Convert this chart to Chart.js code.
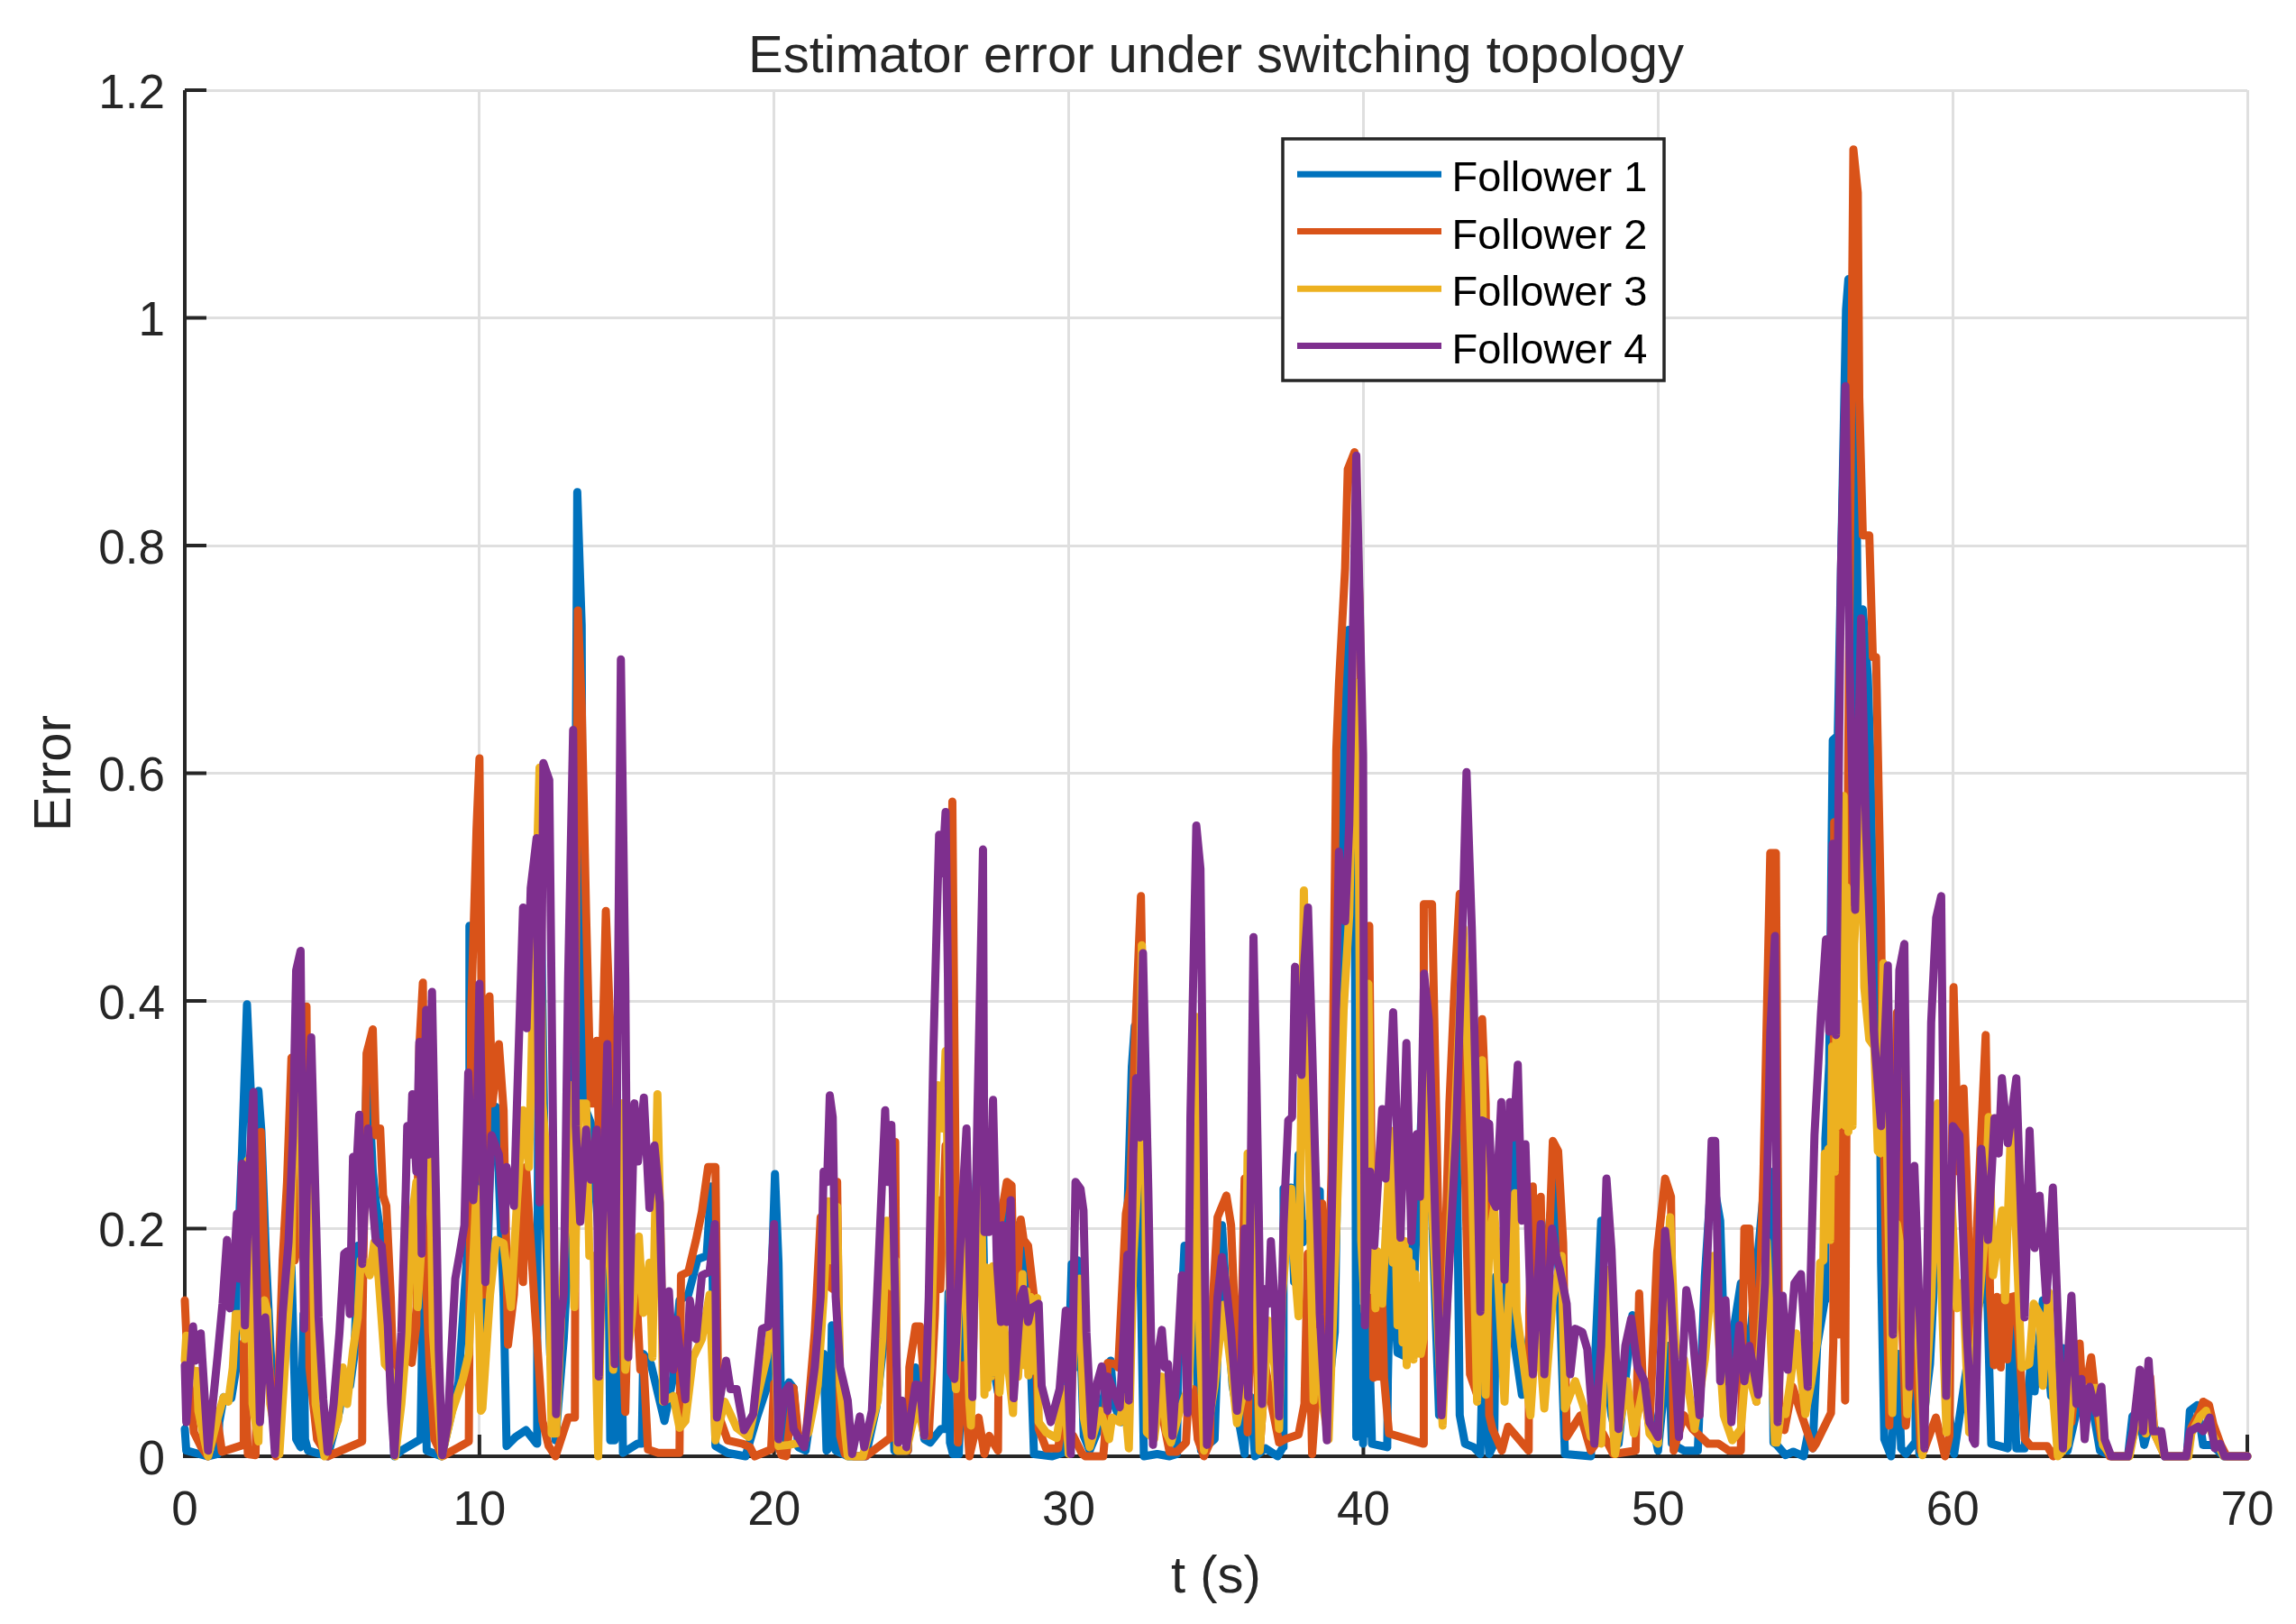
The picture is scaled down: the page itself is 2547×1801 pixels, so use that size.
<!DOCTYPE html>
<html>
<head>
<meta charset="utf-8">
<style>html,body{margin:0;padding:0;background:#fff}canvas{display:block}</style>
<script src="https://cdn.jsdelivr.net/npm/chart.js@4"></script>
</head>
<body>
<canvas id="c" width="2547" height="1801"></canvas>
<script>
const seriesNames = ["Follower 1","Follower 2","Follower 3","Follower 4"];
const xTickStep = 10, yTickStep = 0.2, xMax = 70, yMax = 1.2;

const follower1 = [[0,.024],[.05,.005],[.77,0],[1.12,.002],[1.17,.03],[1.32,.052],[1.58,.051],[1.73,.075],[1.75,.147],[1.94,.266],[2.11,.397],[2.24,.32],[2.33,.11],[2.5,.321],[2.6,.285],[2.76,.172],[2.91,.093],[3.11,.015],[3.32,.078],[3.62,.166],[3.78,.015],[3.93,.008],[4.03,.125],[4.08,.015],[4.18,.005],[4.85,0],[5.25,.04],[5.36,.063],[5.61,.062],[5.76,.09],[5.87,.185],[6.02,.172],[6.19,.354],[6.38,.25],[6.48,.225],[6.68,.188],[6.89,.14],[7.11,0],[7.35,.005],[8.0,.015],[8.06,.11],[8.11,.17],[8.21,.005],[8.72,0],[8.98,.03],[9.29,.065],[9.64,.2],[9.66,.466],[9.79,.39],[9.95,.14],[10.2,.1],[10.41,.3],[10.56,.307],[10.82,.14],[10.92,.009],[11.23,.017],[11.58,.023],[11.94,.011],[11.96,.12],[12.04,.566],[12.25,.2],[12.4,.09],[12.58,.014],[12.86,.103],[13.01,.175],[13.22,.365],[13.32,.847],[13.47,.73],[13.52,.31],[13.78,.293],[14.03,.2],[14.29,.39],[14.39,.142],[14.44,.014],[14.59,.014],[14.75,.31],[14.87,.003],[15.36,.011],[15.51,.011],[15.56,.09],[15.82,.081],[16.28,.031],[16.58,.07],[16.79,.137],[17.09,.142],[17.4,.173],[17.71,.176],[17.86,.237],[18.01,.009],[18.42,.003],[19.03,0],[19.44,.036],[19.8,.064],[20.03,.248],[20.15,.17],[20.26,.011],[20.4,.06],[20.51,.065],[20.66,.06],[20.82,.008],[21.07,.005],[21.53,.09],[21.68,.09],[21.78,.005],[21.89,.008],[21.96,.115],[22.09,.005],[22.5,0],[23.11,0],[23.47,.043],[23.72,.1],[23.93,.147],[24.08,.005],[24.54,.005],[24.59,.065],[24.8,.078],[25.1,.015],[25.3,.012],[25.66,.024],[25.82,.024],[25.92,.144],[25.97,.012],[26.07,.002],[26.27,.002],[26.43,.125],[26.58,.024],[26.99,.339],[27.19,.078],[27.45,.078],[27.6,.056],[27.91,.219],[28.11,.14],[28.26,.203],[28.47,.172],[28.73,.07],[28.82,.002],[29.44,0],[29.9,.004],[30.1,.169],[30.2,.078],[30.3,.172],[30.51,.018],[30.71,.005],[30.95,.02],[31.42,.084],[31.53,.046],[31.78,.03],[32.14,.342],[32.24,.378],[32.4,.216],[32.55,0],[33.0,.002],[33.42,0],[33.67,.002],[33.72,.078],[33.93,.185],[34.08,.172],[34.23,.257],[34.38,.046],[34.49,.005],[34.95,.015],[35.2,.203],[35.35,.14],[35.56,.062],[35.97,.002],[36.02,.052],[36.17,.052],[36.32,0],[36.68,.007],[37.09,0],[37.27,.008],[37.29,.235],[37.55,.236],[37.65,.153],[37.8,.265],[37.95,.188],[38.52,.233],[38.57,.14],[38.77,.046],[39.03,.109],[39.35,.629],[39.5,.726],[39.7,.615],[39.76,.017],[39.82,.127],[39.88,.02],[39.94,.13],[39.99,.011],[40.06,.12],[40.12,.02],[40.17,.127],[40.29,.011],[40.81,.008],[40.83,.066],[40.93,.189],[41.16,.091],[41.4,.088],[41.51,.173],[41.57,.13],[41.63,.19],[41.7,.13],[41.75,.17],[42.04,.341],[42.16,.341],[42.57,.036],[43.04,.311],[43.15,.323],[43.27,.036],[43.45,.011],[43.74,.008],[43.97,.002],[44.03,.066],[44.15,.054],[44.27,.002],[44.44,.011],[44.5,.158],[44.68,.127],[44.79,.115],[45.09,.28],[45.14,.097],[45.38,.054],[45.73,.127],[45.97,.127],[46.49,.244],[46.67,.134],[46.84,.002],[47.72,0],[48.07,.207],[48.19,.09],[48.42,.036],[48.66,.011],[49.13,.124],[49.42,.066],[49.71,.042],[50,.005],[50.35,.097],[50.47,.011],[50.88,.005],[51.35,.005],[51.59,.158],[51.82,.25],[52.11,.207],[52.29,.066],[52.81,.152],[52.99,.066],[53.58,.231],[53.81,.25],[53.92,.012],[54.03,.01],[54.33,.001],[54.59,.004],[54.94,0],[55.1,.021],[55.25,.007],[55.4,.097],[55.66,.137],[55.68,.279],[55.81,.345],[55.93,.629],[56.1,.633],[56.38,1.007],[56.46,1.034],[56.6,.55],[56.69,.961],[56.78,.732],[56.95,.744],[57.12,.686],[57.2,.62],[57.29,.496],[57.52,.4],[57.57,.17],[57.68,.015],[57.91,0],[58.14,.09],[58.25,.007],[58.41,.002],[58.72,.012],[58.74,.071],[58.87,.002],[59.23,.081],[59.43,.185],[59.64,.172],[59.84,.046],[60.05,.002],[60.6,.1],[60.95,.14],[61.14,.175],[61.31,.011],[61.87,.007],[61.99,.137],[62.16,.007],[62.44,.007],[62.67,.091],[62.78,.057],[63.06,.137],[63.34,.053],[63.74,.095],[63.9,.005],[64.3,.05],[64.7,.05],[65,.005],[65.4,0],[65.95,0],[66.1,.035],[66.3,.04],[66.5,.01],[66.7,.03],[67,.02],[67.2,0],[67.95,0],[68.05,.04],[68.3,.045],[68.5,.01],[68.8,.01],[69.2,0],[70,0]];

const follower2 = [[0,.137],[.1,.078],[.31,.021],[.56,.008],[.79,0],[1.12,.03],[1.26,.004],[1.99,.01],[2.0,.1],[2.14,.002],[2.4,.001],[2.52,.14],[2.58,.285],[2.7,.172],[2.86,.084],[3.09,0],[3.32,.172],[3.47,.241],[3.62,.35],[3.73,.172],[3.93,.203],[4.13,.395],[4.23,.078],[4.49,.015],[4.85,0],[6.02,.013],[6.03,.12],[6.17,.354],[6.38,.375],[6.48,.282],[6.63,.288],[6.73,.229],[6.84,.22],[6.99,.14],[7.11,.045],[7.17,.078],[7.45,.093],[7.55,.14],[7.7,.082],[7.86,.115],[7.96,.36],[8.08,.416],[8.16,.172],[8.31,.078],[8.47,.015],[8.74,0],[9.64,.013],[9.72,.39],[9.9,.55],[10.0,.613],[10.1,.31],[10.15,.142],[10.34,.404],[10.44,.31],[10.66,.362],[10.82,.304],[10.97,.098],[11.17,.142],[11.38,.254],[11.48,.153],[11.58,.254],[11.89,.126],[12.14,.031],[12.35,.009],[12.58,0],[13.01,.034],[13.24,.034],[13.27,.42],[13.34,.743],[13.47,.66],[13.62,.477],[13.78,.31],[13.88,.31],[13.98,.365],[14.08,.254],[14.29,.479],[14.44,.376],[14.59,.31],[14.95,.039],[15.05,.142],[15.31,.153],[15.46,.076],[15.56,.087],[15.72,.006],[16.07,.003],[16.79,.003],[16.84,.159],[17.09,.162],[17.35,.19],[17.55,.215],[17.76,.254],[18.01,.254],[18.11,.037],[18.42,.014],[18.93,.011],[19.18,.008],[19.34,0],[19.9,.006],[20.0,.064],[20.15,.009],[20.25,.001],[20.41,0],[20.66,.06],[20.82,.018],[21.07,.015],[21.38,.109],[21.58,.21],[21.84,.15],[21.99,.147],[22.14,.241],[22.2,.109],[22.24,.018],[22.4,.002],[22.7,0],[23.11,0],[23.93,.016],[23.95,.14],[24.11,.276],[24.18,.005],[24.54,.005],[24.59,.078],[24.8,.114],[24.95,.114],[25.1,.062],[25.25,.018],[25.46,.125],[25.56,.225],[25.64,.147],[25.82,.273],[25.97,.172],[26.05,.575],[26.24,.012],[26.43,.08],[26.63,0],[26.94,.034],[27.14,.002],[27.3,.018],[27.6,.005],[27.65,.203],[27.9,.241],[28.06,.238],[28.16,.109],[28.37,.208],[28.47,.19],[28.62,.185],[28.82,.14],[28.98,.024],[29.23,.007],[29.64,.007],[29.74,.024],[29.9,.02],[30.15,.018],[30.46,.002],[30.56,0],[31.17,0],[31.22,.015],[31.32,.082],[31.58,.081],[31.68,.078],[31.94,.213],[32.09,.235],[32.24,.36],[32.45,.492],[32.6,.266],[32.68,.021],[33.1,.046],[33.42,.004],[33.67,.004],[33.98,.012],[34.03,.037],[34.23,.059],[34.38,.015],[34.59,0],[34.79,.012],[34.9,.14],[35.05,.21],[35.35,.229],[35.51,.203],[35.66,.109],[35.81,.05],[35.97,.244],[36.07,.021],[36.22,.172],[36.32,.14],[36.48,.005],[36.68,.078],[36.88,.046],[37.14,.012],[37.34,.015],[37.8,.019],[38.0,.046],[38.11,.178],[38.26,.002],[38.47,.078],[38.6,.222],[38.77,.109],[38.92,.25],[39.08,.62],[39.17,.678],[39.38,.78],[39.47,.867],[39.7,.882],[39.88,.74],[40.05,.189],[40.2,.466],[40.34,.069],[40.4,.14],[40.46,.07],[40.52,.14],[40.58,.07],[40.64,.14],[40.7,.069],[40.87,.02],[42.04,.011],[42.05,.485],[42.33,.485],[42.51,.25],[42.65,.066],[42.92,.31],[43.1,.415],[43.27,.494],[43.45,.25],[43.62,.072],[43.86,.054],[44.03,.384],[44.15,.31],[44.27,.036],[44.38,.024],[44.7,.005],[44.91,.026],[45.61,.005],[45.63,.127],[45.75,.237],[45.9,.085],[46.02,.228],[46.14,.072],[46.43,.277],[46.61,.268],[46.78,.188],[46.9,.017],[47.37,.036],[47.72,.005],[48.13,.02],[48.48,.002],[49.24,.005],[49.36,.143],[49.48,.066],[49.71,.024],[49.97,.179],[50.24,.244],[50.44,.228],[50.53,.005],[50.88,.036],[51.17,.024],[51.7,.011],[52.05,.011],[52.4,.005],[52.81,.005],[52.93,.2],[53.1,.2],[53.34,.048],[53.58,.25],[53.81,.53],[54.0,.53],[54.12,.03],[54.29,.023],[54.57,.061],[54.85,.038],[55.25,.007],[55.36,.011],[55.87,.038],[55.95,.1],[55.98,.557],[56.13,.107],[56.17,.386],[56.35,.049],[56.45,.6],[56.63,1.148],[56.78,1.11],[56.83,.93],[56.95,.809],[57.17,.809],[57.29,.702],[57.4,.702],[57.57,.473],[57.63,.32],[57.85,.027],[58.11,.39],[58.26,.14],[58.41,.027],[58.72,.109],[58.92,.005],[59.02,.005],[59.43,.034],[59.74,0],[59.89,.018],[60.03,.412],[60.2,.25],[60.37,.323],[60.51,.22],[60.66,.047],[60.82,.2],[61.12,.37],[61.27,.141],[61.4,.08],[61.5,.14],[61.63,.078],[61.72,.14],[61.85,.085],[61.99,.14],[62.14,.141],[62.3,.078],[62.45,.015],[62.65,.009],[63.21,.009],[63.41,0],[63.6,.01],[63.8,.06],[64.03,.03],[64.31,.099],[64.42,.046],[64.7,.087],[64.87,.046],[65.05,.015],[65.33,0],[65.95,0],[66.15,.02],[66.4,.06],[66.55,.02],[66.7,.07],[66.85,.02],[67.15,.003],[67.2,0],[67.95,0],[68.1,.025],[68.4,.04],[68.5,.048],[68.7,.045],[68.85,.028],[69.1,.01],[69.3,0],[70,0]];

const follower3 = [[0,.084],[.05,.106],[.26,.071],[.41,.075],[.46,.04],[.66,.015],[.79,0],[1.12,.034],[1.32,.052],[1.48,.048],[1.63,.078],[1.73,.125],[1.89,.125],[2.04,.103],[2.14,.26],[2.24,.207],[2.3,.046],[2.5,.013],[2.58,.109],[2.7,.137],[2.8,.128],[2.9,.046],[3.21,.002],[3.37,.068],[3.62,.172],[3.67,.267],[3.88,.32],[4.03,.172],[4.23,.269],[4.34,.203],[4.44,.046],[4.74,0],[5.2,.032],[5.36,.078],[5.51,.046],[5.71,.093],[5.87,.122],[5.97,.172],[6.07,.172],[6.28,.159],[6.43,.188],[6.58,.156],[6.79,.081],[6.99,.075],[7.14,0],[7.35,.046],[7.55,.109],[7.7,.207],[7.86,.241],[7.9,.131],[8.0,.172],[8.3,.317],[8.42,.109],[8.72,0],[9.08,.04],[9.44,.068],[9.64,.09],[9.79,.172],[9.9,.235],[10.05,.04],[10.1,.042],[10.36,.142],[10.56,.19],[10.82,.187],[11.07,.131],[11.28,.226],[11.48,.304],[11.68,.254],[11.79,.374],[12.04,.605],[12.14,.31],[12.3,.254],[12.45,.02],[12.6,.02],[12.81,.142],[13.01,.254],[13.11,.326],[13.22,.131],[13.37,.31],[13.62,.31],[13.73,.176],[13.88,.176],[14.03,0],[14.13,.142],[14.34,.27],[14.54,.076],[14.85,.31],[14.95,.076],[15.15,.115],[15.41,.193],[15.56,.126],[15.77,.17],[15.87,.087],[16.04,.318],[16.17,.17],[16.23,.048],[16.58,.053],[16.79,.025],[16.99,.031],[17.25,.087],[17.55,.103],[17.81,.142],[18.01,.014],[18.32,.048],[18.73,.025],[19.13,.017],[19.44,.053],[19.75,.087],[20.0,.137],[20.15,.009],[20.51,.01],[20.87,.012],[21.17,.021],[21.48,.062],[21.68,.14],[21.84,.224],[21.94,.172],[22.14,.219],[22.24,.062],[22.5,0],[23.01,0],[23.52,.049],[23.67,.103],[23.82,.207],[23.98,.149],[24.13,.172],[24.18,.005],[24.49,.005],[24.85,.046],[25.1,.018],[25.3,.078],[25.56,.326],[25.71,.288],[25.82,.356],[25.97,.14],[26.17,.059],[26.27,.14],[26.43,.213],[26.63,.046],[26.68,.027],[26.99,.298],[27.14,.054],[27.19,.166],[27.24,.06],[27.3,.16],[27.36,.07],[27.42,.167],[27.5,.085],[27.56,.15],[27.65,.056],[27.8,.115],[28.11,.038],[28.2,.12],[28.28,.07],[28.37,.109],[28.43,.16],[28.5,.08],[28.57,.145],[28.63,.071],[28.7,.14],[28.76,.075],[28.83,.135],[28.93,.139],[28.98,.03],[29.23,.021],[29.59,.016],[29.85,.059],[30.0,.002],[30.25,.14],[30.36,.156],[30.51,.034],[30.71,.008],[31.07,.04],[31.37,.015],[31.47,.034],[31.73,.03],[31.89,.052],[32.04,.007],[32.19,.172],[32.4,.273],[32.48,.449],[32.6,.266],[32.65,.021],[32.9,.015],[33.16,.07],[33.31,.021],[33.47,.012],[33.77,.04],[34.08,.062],[34.23,.172],[34.33,.386],[34.44,.109],[34.59,.005],[34.95,.062],[35.25,.133],[35.51,.078],[35.71,.029],[35.97,.062],[36.07,.266],[36.22,.235],[36.27,.317],[36.48,.005],[36.68,.078],[36.78,.119],[36.99,.078],[37.14,.024],[37.24,.14],[37.55,.235],[37.65,.172],[37.8,.123],[37.98,.497],[38.31,.049],[38.42,.109],[38.62,.046],[38.82,.015],[39.13,.235],[39.33,.392],[39.52,.476],[39.7,.68],[39.82,.647],[39.93,.189],[40.05,.127],[40.17,.415],[40.29,.146],[40.35,.18],[40.41,.13],[40.47,.18],[40.52,.135],[40.58,.178],[40.64,.134],[40.93,.286],[41.0,.17],[41.05,.25],[41.16,.115],[41.25,.21],[41.33,.1],[41.4,.189],[41.47,.08],[41.53,.18],[41.57,.091],[41.63,.17],[41.7,.085],[41.76,.16],[41.81,.09],[41.88,.15],[41.95,.09],[42.04,.103],[42.1,.372],[42.22,.28],[42.69,.027],[42.92,.189],[43.39,.464],[43.68,.25],[43.86,.048],[44.03,.348],[44.15,.054],[44.27,.189],[44.44,.219],[44.79,.048],[44.91,.127],[45.14,.231],[45.2,.127],[45.67,.036],[45.9,.127],[46.14,.042],[46.43,.14],[46.73,.176],[46.84,.042],[47.19,.066],[47.49,.042],[47.72,.017],[48.07,.011],[48.25,.164],[48.48,.024],[48.54,.002],[48.95,.066],[49.18,.02],[49.54,.066],[49.71,.02],[50.0,.011],[50.41,.21],[50.59,.097],[50.88,.085],[51.24,.024],[51.59,.085],[51.88,.176],[52.0,.127],[52.23,.036],[52.52,.014],[52.81,.024],[52.99,.08],[53.34,.048],[53.69,.189],[53.97,.012],[54.03,.012],[54.18,.04],[54.33,.037],[54.49,.065],[54.69,.108],[55.0,.037],[55.2,.065],[55.4,.101],[55.5,.17],[55.61,.172],[55.66,.266],[55.72,.19],[55.78,.27],[55.84,.19],[55.91,.36],[56.0,.25],[56.05,.37],[56.1,.29],[56.2,.5],[56.3,.58],[56.36,.29],[56.4,.5],[56.46,.285],[56.53,.48],[56.6,.29],[56.66,.45],[56.75,.5],[56.89,.61],[57.0,.412],[57.17,.366],[57.34,.36],[57.46,.268],[57.55,.266],[57.65,.433],[57.75,.3],[57.95,.038],[58.11,.204],[58.31,.172],[58.46,.037],[58.62,.141],[58.77,.156],[58.97,.001],[59.28,.141],[59.49,.31],[59.59,.172],[59.79,.021],[59.94,.235],[60.15,.13],[60.35,.153],[60.56,.021],[60.81,.109],[61.07,.188],[61.22,.298],[61.37,.159],[61.68,.216],[61.78,.137],[61.99,.298],[62.19,.172],[62.34,.078],[62.6,.081],[62.75,.134],[62.95,.125],[63.06,.062],[63.26,.144],[63.41,.053],[63.57,0],[63.9,.01],[64.1,.07],[64.4,.06],[64.7,.06],[64.9,.06],[65.1,.01],[65.4,0],[66,0],[66.15,.02],[66.4,.055],[66.55,.02],[66.7,.06],[66.85,.02],[67.2,0],[68,0],[68.1,.02],[68.4,.035],[68.6,.04],[68.8,.02],[69.2,0],[70,0]];

const follower4 = [[0,.08],[.05,.03],[.28,.114],[.36,.084],[.54,.108],[.79,.005],[1.12,.09],[1.28,.134],[1.43,.19],[1.53,.13],[1.68,.172],[1.77,.213],[1.84,.156],[1.94,.257],[2.04,.115],[2.19,.25],[2.33,.32],[2.4,.2],[2.55,.03],[2.73,.122],[2.9,.062],[3.06,.002],[3.32,.125],[3.52,.188],[3.67,.282],[3.78,.427],[3.93,.444],[4.05,.112],[4.19,.3],[4.29,.368],[4.39,.272],[4.54,.122],[4.7,.05],[4.85,.004],[5.05,.046],[5.25,.109],[5.41,.178],[5.51,.18],[5.6,.125],[5.71,.263],[5.82,.25],[5.92,.3],[6.02,.169],[6.22,.288],[6.38,.219],[6.48,.19],[6.68,.185],[6.89,.115],[7.0,.046],[7.11,.001],[7.35,.109],[7.5,.235],[7.55,.29],[7.65,.265],[7.72,.318],[7.86,.25],[7.96,.364],[8.04,.178],[8.19,.392],[8.26,.265],[8.39,.408],[8.52,.235],[8.62,.093],[8.74,.001],[8.93,.03],[9.03,.084],[9.18,.156],[9.33,.178],[9.49,.203],[9.62,.337],[9.79,.225],[9.9,.266],[10.0,.415],[10.2,.153],[10.41,.282],[10.66,.265],[10.85,.198],[10.92,.254],[11.17,.22],[11.22,.265],[11.48,.482],[11.6,.376],[11.74,.499],[11.94,.543],[12.04,.223],[12.17,.609],[12.37,.594],[12.6,.037],[12.76,.12],[12.86,.142],[13.01,.42],[13.18,.638],[13.27,.29],[13.42,.206],[13.62,.287],[13.78,.243],[13.98,.287],[14.05,.07],[14.34,.362],[14.59,.081],[14.8,.7],[14.95,.42],[15.05,.087],[15.26,.31],[15.38,.259],[15.58,.315],[15.77,.218],[15.94,.273],[16.12,.223],[16.28,.048],[16.43,.145],[16.58,.076],[16.68,.12],[16.99,.05],[17.14,.137],[17.35,.103],[17.55,.159],[17.81,.162],[17.99,.204],[18.06,.034],[18.37,.084],[18.52,.059],[18.73,.059],[18.98,.023],[19.29,.037],[19.59,.112],[19.8,.114],[20.0,.204],[20.15,.015],[20.36,.056],[20.51,.062],[20.66,.024],[21.02,.008],[21.38,.078],[21.58,.14],[21.68,.25],[21.8,.241],[21.89,.317],[21.99,.298],[22.09,.14],[22.24,.078],[22.5,.049],[22.65,.002],[22.91,.035],[23.06,.008],[23.32,.04],[23.52,.156],[23.77,.304],[23.85,.241],[23.98,.291],[24.08,.172],[24.21,.012],[24.34,.049],[24.49,.008],[24.8,.063],[24.95,.062],[25.1,.018],[25.25,.14],[25.41,.36],[25.6,.546],[25.7,.512],[25.82,.566],[25.9,.42],[26.0,.074],[26.12,.068],[26.38,.219],[26.53,.288],[26.73,.052],[26.9,.3],[27.09,.533],[27.14,.197],[27.3,.197],[27.43,.313],[27.56,.172],[27.7,.118],[27.75,.203],[27.89,.118],[28.03,.225],[28.13,.051],[28.37,.14],[28.47,.147],[28.62,.118],[28.73,.13],[28.98,.134],[29.08,.062],[29.39,.03],[29.69,.059],[29.9,.128],[30.07,.002],[30.23,.241],[30.4,.235],[30.5,.216],[30.6,.109],[30.78,.018],[30.97,.065],[31.12,.079],[31.32,.04],[31.33,.07],[31.73,.043],[31.84,.093],[31.99,.177],[32.04,.049],[32.19,.266],[32.29,.332],[32.41,.28],[32.52,.442],[32.7,.235],[32.86,.01],[33.0,.084],[33.16,.111],[33.26,.078],[33.37,.081],[33.52,.018],[33.67,.078],[33.84,.159],[33.95,.112],[34.03,.038],[34.13,.298],[34.33,.554],[34.47,.516],[34.69,.01],[34.9,.062],[35.05,.14],[35.2,.175],[35.35,.148],[35.51,.109],[35.71,.04],[35.86,.078],[35.97,.2],[36.09,.052],[36.27,.456],[36.37,.33],[36.56,.046],[36.68,.147],[36.78,.134],[36.86,.189],[36.99,.134],[37.14,.035],[37.29,.203],[37.45,.295],[37.58,.298],[37.68,.43],[37.76,.351],[37.9,.335],[37.99,.431],[38.12,.482],[38.26,.36],[38.36,.266],[38.52,.125],[38.76,.014],[38.97,.266],[39.17,.531],[39.38,.47],[39.52,.555],[39.76,.879],[39.99,.616],[40.05,.115],[40.23,.25],[40.37,.185],[40.64,.305],[40.75,.244],[41.01,.39],[41.26,.192],[41.46,.363],[41.63,.189],[41.81,.283],[41.92,.228],[42.06,.424],[42.22,.384],[42.39,.25],[42.65,.036],[42.92,.17],[43.15,.286],[43.33,.433],[43.5,.601],[43.68,.464],[43.8,.341],[43.97,.127],[44.03,.295],[44.27,.292],[44.38,.225],[44.5,.219],[44.68,.311],[44.79,.155],[44.97,.311],[45.09,.28],[45.24,.344],[45.38,.207],[45.5,.274],[45.75,.072],[46.02,.204],[46.14,.072],[46.4,.2],[46.55,.176],[46.67,.164],[46.9,.134],[47.02,.072],[47.19,.112],[47.43,.109],[47.6,.094],[47.84,.011],[48.07,.097],[48.25,.244],[48.42,.182],[48.66,.024],[48.89,.097],[49.09,.121],[49.3,.079],[49.54,.066],[49.71,.03],[50.0,.017],[50.24,.198],[50.41,.152],[50.71,.017],[50.96,.146],[51.11,.127],[51.41,.036],[51.65,.158],[51.82,.277],[51.94,.277],[52.11,.066],[52.29,.137],[52.49,.03],[52.76,.115],[52.93,.066],[53.1,.097],[53.4,.054],[53.63,.152],[53.81,.372],[53.97,.457],[54.06,.03],[54.23,.141],[54.4,.076],[54.63,.152],[54.85,.16],[55.08,.061],[55.31,.282],[55.53,.389],[55.7,.454],[55.81,.373],[55.93,.538],[56.04,.37],[56.21,.78],[56.36,.94],[56.5,.7],[56.69,.48],[56.89,.736],[57.06,.55],[57.32,.374],[57.57,.29],[57.8,.431],[57.97,.107],[58.19,.427],[58.36,.45],[58.53,.061],[58.7,.255],[59.04,.007],[59.27,.381],[59.44,.473],[59.61,.492],[59.78,.053],[60.01,.29],[60.23,.282],[60.48,.107],[60.68,.015],[60.76,.011],[60.97,.27],[61.2,.19],[61.42,.297],[61.56,.266],[61.67,.332],[61.87,.275],[62.16,.332],[62.44,.122],[62.61,.286],[62.78,.183],[62.95,.229],[63.18,.137],[63.4,.236],[63.74,.007],[64.03,.141],[64.2,.046],[64.37,.068],[64.48,.015],[64.65,.061],[64.87,.038],[65.05,.061],[65.16,.015],[65.38,0],[65.95,0],[66.12,.022],[66.35,.076],[66.46,.022],[66.65,.084],[66.8,.022],[67.08,.022],[67.2,0],[67.93,0],[68.05,.022],[68.33,.026],[68.5,.022],[68.72,.034],[68.9,.007],[69.07,.011],[69.23,0],[70,0]];

const seriesData = [follower1, follower2, follower3, follower4];
const colors = ["#0072BD","#D95319","#EDB120","#7E2F8E"];
const INK = "#262626";
const FONT = '"Liberation Sans", Arial, sans-serif';

// Axes with inward ticks and the boxed legend, both drawn beneath the data.
const matlabAxes = {
  id: "matlabAxes",
  beforeDatasetsDraw(chart) {
    const ctx = chart.ctx, a = chart.chartArea, xs = chart.scales.x, ys = chart.scales.y, len = 24;
    ctx.save();
    ctx.strokeStyle = INK; ctx.lineWidth = 4; ctx.lineCap = "butt";
    ctx.beginPath();
    ctx.moveTo(a.left, a.top); ctx.lineTo(a.left, a.bottom + 2);
    ctx.moveTo(a.left - 2, a.bottom); ctx.lineTo(a.right, a.bottom);
    xs.ticks.forEach((t, i) => { const p = xs.getPixelForTick(i); ctx.moveTo(p, a.bottom); ctx.lineTo(p, a.bottom - len); });
    ys.ticks.forEach((t, i) => { const p = ys.getPixelForTick(i); ctx.moveTo(a.left, p); ctx.lineTo(a.left + len, p); });
    ctx.stroke();

    // legend
    const L = 1423, T = 154, R = 1846, B = 422;
    ctx.fillStyle = "#fff"; ctx.fillRect(L, T, R - L, B - T);
    ctx.lineWidth = 3.5; ctx.strokeStyle = INK; ctx.strokeRect(L, T, R - L, B - T);
    const lineY = [193.3, 256.5, 320.3, 383.5], textY = [212, 275.7, 339, 402.7];
    chart.data.datasets.forEach((d, i) => {
      ctx.strokeStyle = d.borderColor; ctx.lineWidth = 7;
      ctx.beginPath(); ctx.moveTo(1439, lineY[i]); ctx.lineTo(1599, lineY[i]); ctx.stroke();
      ctx.fillStyle = "#000"; ctx.font = "47px " + FONT; ctx.textAlign = "left"; ctx.textBaseline = "alphabetic";
      ctx.fillText(d.label, 1610.5, textY[i]);
    });
    ctx.restore();
  }
};

new Chart(document.getElementById("c"), {
  type: "line",
  plugins: [matlabAxes],
  data: {
    datasets: seriesData.map((s, i) => ({
      label: seriesNames[i], data: s, borderColor: colors[i], backgroundColor: colors[i],
      borderWidth: 9, pointRadius: 0, tension: 0, fill: false, clip: false,
      borderJoinStyle: "round", borderCapStyle: "round", order: 4 - i
    }))
  },
  options: {
    responsive: false, animation: false, devicePixelRatio: 1,
    layout: { padding: { left: 0, right: 54, top: 0, bottom: 0 } },
    plugins: {
      legend: { display: false },
      tooltip: { enabled: false },
      title: { display: true, fullSize: false, text: "Estimator error under switching topology", color: INK,
        font: { family: FONT, size: 58, weight: "normal" }, padding: { top: 29, bottom: 1.4 } }
    },
    scales: {
      x: { type: "linear", min: 0, max: xMax,
        afterFit(s) { s.height = 186; s.paddingRight = 0; s.paddingLeft = 0; },
        grid: { color: "#dfdfdf", lineWidth: 3, drawTicks: false },
        border: { display: false },
        ticks: { stepSize: xTickStep, color: INK, padding: 30, autoSkip: false, maxRotation: 0, font: { family: FONT, size: 53 } },
        title: { display: true, text: "t (s)", color: INK, font: { family: FONT, size: 58 }, padding: { top: 0, bottom: 16.5 } } },
      y: { min: 0, max: yMax,
        afterFit(s) { s.width = 205; s.paddingTop = 0; s.paddingBottom = 0; },
        grid: { color: "#dfdfdf", lineWidth: 3, drawTicks: false },
        border: { display: false },
        ticks: { stepSize: yTickStep, color: INK, padding: 22, labelOffset: 5, autoSkip: false,
          callback: v => String(+v.toFixed(1)), font: { family: FONT, size: 53 } },
        title: { display: true, text: "Error", color: INK, font: { family: FONT, size: 58 }, padding: { top: 27, bottom: 0 } } }
    }
  }
});
</script>
</body>
</html>
